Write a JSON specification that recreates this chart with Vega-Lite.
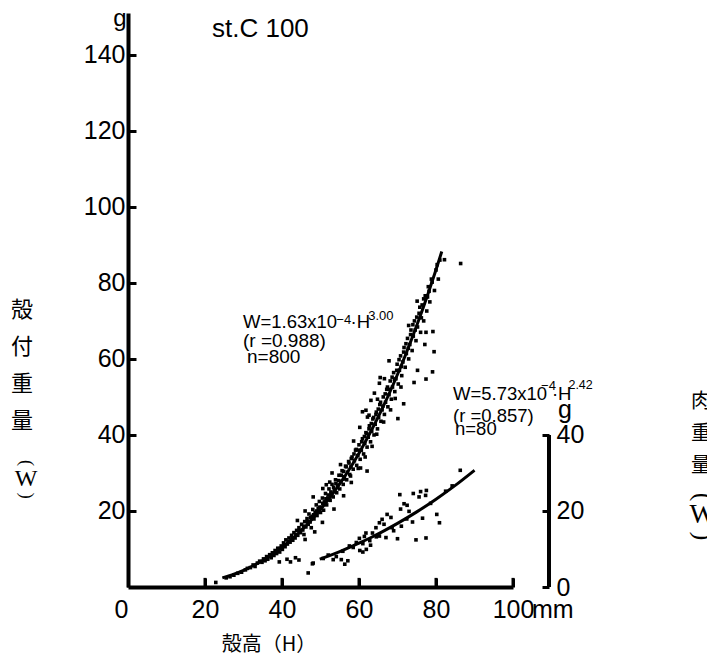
{
"$schema": "https://vega.github.io/schema/vega-lite/v6.json",
"width": 385, "height": 574,
"autosize": {"type": "none"},
"padding": {"left": 128, "top": 13, "right": 194, "bottom": 71},
"background": "white",
"config": {"view": {"stroke": null}, "font": "Liberation Sans"},
"resolve": {"axis": {"x": "independent", "y": "independent"}},
"datasets": {
"shell": [
{"H":22.8,"W":1.2},{"H":25.5,"W":2.4},{"H":26.5,"W":2.7},{"H":27.5,"W":3.1},{"H":28.5,"W":3.6},{"H":29.5,"W":3.9},{"H":30.5,"W":4.5},{"H":31.0,"W":4.9},{"H":31.8,"W":5.1},{"H":32.5,"W":5.8},{"H":33.0,"W":5.4},{"H":33.6,"W":6.3},{"H":34.2,"W":6.8},{"H":34.8,"W":6.5},{"H":35.2,"W":7.4},{"H":35.6,"W":6.9},{"H":36.0,"W":8.0},{"H":36.3,"W":7.3},{"H":36.8,"W":8.5},{"H":37.2,"W":7.7},{"H":37.5,"W":9.0},{"H":37.9,"W":8.3},{"H":38.2,"W":9.6},{"H":38.6,"W":8.8},{"H":38.9,"W":10.2},{"H":39.3,"W":6.6},{"H":39.4,"W":9.2},{"H":39.8,"W":10.8},{"H":40.1,"W":9.9},{"H":40.4,"W":11.6},{"H":40.8,"W":10.6},{"H":41.0,"W":12.4},{"H":41.3,"W":7.3},{"H":41.4,"W":11.3},{"H":41.8,"W":12.9},{"H":42.2,"W":6.6},{"H":42.1,"W":11.8},{"H":42.5,"W":13.6},{"H":42.8,"W":12.3},{"H":43.1,"W":14.3},{"H":43.5,"W":7.7},{"H":43.4,"W":12.9},{"H":43.8,"W":14.9},{"H":44.1,"W":13.6},{"H":44.4,"W":7.1},{"H":44.4,"W":15.6},{"H":44.8,"W":14.3},{"H":45.1,"W":16.5},{"H":45.4,"W":15.0},{"H":45.7,"W":13.8},{"H":45.9,"W":17.2},{"H":46.2,"W":15.8},{"H":46.5,"W":18.0},{"H":46.8,"W":16.5},{"H":47.0,"W":19.2},{"H":47.3,"W":17.1},{"H":47.6,"W":15.6},{"H":47.8,"W":18.6},{"H":48.0,"W":20.4},{"H":48.3,"W":17.9},{"H":48.6,"W":19.6},{"H":48.9,"W":21.6},{"H":49.1,"W":18.8},{"H":49.4,"W":20.6},{"H":49.7,"W":22.5},{"H":50.0,"W":19.6},{"H":50.2,"W":21.0},{"H":50.5,"W":23.4},{"H":50.8,"W":20.2},{"H":51.0,"W":22.4},{"H":51.3,"W":24.6},{"H":51.6,"W":21.6},{"H":51.9,"W":23.4},{"H":52.2,"W":25.8},{"H":52.5,"W":22.8},{"H":52.8,"W":24.6},{"H":53.0,"W":27.0},{"H":53.3,"W":23.7},{"H":53.6,"W":25.6},{"H":53.9,"W":28.2},{"H":54.2,"W":24.8},{"H":54.5,"W":26.8},{"H":54.8,"W":29.4},{"H":55.0,"W":25.8},{"H":55.3,"W":27.8},{"H":55.6,"W":30.6},{"H":55.9,"W":27.0},{"H":56.2,"W":29.0},{"H":56.5,"W":31.8},{"H":56.8,"W":28.2},{"H":57.0,"W":30.2},{"H":57.3,"W":33.0},{"H":57.6,"W":29.6},{"H":57.9,"W":31.6},{"H":58.2,"W":34.2},{"H":58.5,"W":31.0},{"H":58.8,"W":33.2},{"H":59.1,"W":36.0},{"H":59.4,"W":32.0},{"H":59.7,"W":34.6},{"H":60.0,"W":37.4},{"H":60.3,"W":33.6},{"H":60.6,"W":36.0},{"H":60.9,"W":39.0},{"H":61.2,"W":35.0},{"H":61.5,"W":37.8},{"H":61.8,"W":40.6},{"H":62.1,"W":36.8},{"H":62.4,"W":39.4},{"H":62.7,"W":42.4},{"H":63.0,"W":38.2},{"H":63.3,"W":41.0},{"H":63.6,"W":44.2},{"H":63.9,"W":40.0},{"H":64.2,"W":42.8},{"H":64.5,"W":46.0},{"H":64.8,"W":41.6},{"H":65.1,"W":44.6},{"H":65.4,"W":48.0},{"H":65.7,"W":43.6},{"H":66.0,"W":46.6},{"H":66.3,"W":50.0},{"H":66.6,"W":45.4},{"H":66.9,"W":48.6},{"H":67.2,"W":52.0},{"H":67.5,"W":47.4},{"H":67.8,"W":59.5},{"H":67.8,"W":50.6},{"H":68.1,"W":54.2},{"H":68.4,"W":49.4},{"H":68.7,"W":52.6},{"H":69.0,"W":56.4},{"H":69.3,"W":51.4},{"H":69.6,"W":54.8},{"H":69.9,"W":58.6},{"H":70.1,"W":44.3},{"H":70.2,"W":53.4},{"H":70.5,"W":57.0},{"H":70.8,"W":60.8},{"H":71.1,"W":55.6},{"H":71.4,"W":59.2},{"H":71.6,"W":48.2},{"H":71.7,"W":63.0},{"H":72.0,"W":57.8},{"H":72.3,"W":61.4},{"H":72.6,"W":65.4},{"H":72.9,"W":68.8},{"H":72.9,"W":60.0},{"H":73.2,"W":63.8},{"H":73.5,"W":67.6},{"H":73.8,"W":62.2},{"H":74.1,"W":66.0},{"H":74.3,"W":53.8},{"H":74.4,"W":70.0},{"H":74.8,"W":64.8},{"H":75.1,"W":75.2},{"H":75.2,"W":57.0},{"H":75.2,"W":68.4},{"H":75.6,"W":72.0},{"H":76.0,"W":67.0},{"H":76.4,"W":74.2},{"H":76.8,"W":70.0},{"H":77.1,"W":63.8},{"H":77.2,"W":76.6},{"H":77.4,"W":67.0},{"H":77.4,"W":54.7},{"H":77.6,"W":72.6},{"H":77.8,"W":76.3},{"H":78.0,"W":79.0},{"H":78.4,"W":75.0},{"H":78.8,"W":81.0},{"H":79.1,"W":56.6},{"H":79.2,"W":67.2},{"H":79.5,"W":61.9},{"H":79.6,"W":78.0},{"H":80.0,"W":83.4},{"H":80.6,"W":81.0},{"H":81.0,"W":86.0},{"H":82.2,"W":86.1},{"H":86.4,"W":85.1},
{"H":62.1,"W":30.5},{"H":60.4,"W":31.3},{"H":58.0,"W":27.5},{"H":56.0,"W":24.0},{"H":53.5,"W":20.5},{"H":50.5,"W":17.0},{"H":48.5,"W":14.5},{"H":46.0,"W":12.5},{"H":50.6,"W":25.9},{"H":48.1,"W":23.7},{"H":51.5,"W":26.9},{"H":46.0,"W":20.0},{"H":44.0,"W":17.5},{"H":53.0,"W":30.0},{"H":65.5,"W":55.1},{"H":66.6,"W":54.8},{"H":65.3,"W":53.6},{"H":64.0,"W":51.0},{"H":63.1,"W":49.1},{"H":61.8,"W":46.5},{"H":60.9,"W":46.1},{"H":62.2,"W":44.7},
{"H":38.4,"W":9.5},{"H":39.6,"W":10.2},{"H":40.6,"W":11.0},{"H":41.6,"W":12.0},{"H":42.6,"W":12.8},{"H":43.6,"W":13.8},{"H":44.6,"W":14.9},{"H":45.6,"W":16.0},{"H":46.6,"W":17.2},{"H":47.4,"W":18.2},{"H":48.2,"W":19.0},{"H":49.0,"W":20.0},{"H":49.8,"W":21.0},{"H":50.6,"W":22.0},{"H":51.4,"W":23.2},{"H":52.0,"W":24.2},{"H":52.7,"W":25.0},{"H":53.4,"W":26.2},{"H":54.0,"W":27.2},{"H":54.7,"W":28.0},{"H":55.4,"W":29.4},{"H":56.0,"W":30.4},{"H":56.7,"W":31.6},{"H":57.4,"W":32.6},{"H":58.0,"W":33.8},{"H":58.7,"W":35.0},{"H":59.3,"W":36.2},{"H":60.0,"W":36.0},{"H":60.7,"W":38.2},{"H":61.4,"W":39.6},{"H":62.0,"W":40.4},{"H":62.6,"W":41.6},{"H":63.2,"W":43.0},{"H":63.8,"W":44.6},{"H":64.4,"W":45.4},{"H":65.0,"W":46.8},{"H":65.6,"W":48.6},{"H":66.2,"W":47.6},{"H":66.8,"W":50.8},{"H":67.4,"W":52.6},{"H":68.0,"W":52.0},{"H":68.6,"W":55.2},{"H":69.2,"W":54.6},{"H":69.8,"W":57.0},{"H":70.4,"W":59.8},{"H":71.0,"W":58.0},{"H":71.6,"W":61.8},{"H":72.2,"W":64.0},{"H":72.8,"W":62.8},{"H":73.4,"W":66.4},{"H":74.0,"W":69.0},{"H":74.6,"W":67.6},{"H":75.0,"W":71.0},{"H":75.8,"W":73.6},{"H":76.2,"W":70.8},{"H":76.8,"W":75.8},{"H":78.2,"W":77.8},{"H":79.0,"W":80.2},{"H":80.3,"W":84.8},{"H":56.0,"W":28.4},{"H":57.8,"W":29.2},{"H":59.8,"W":31.2},{"H":61.6,"W":34.2},{"H":63.4,"W":37.0},{"H":64.6,"W":40.2},{"H":66.4,"W":43.4},{"H":68.2,"W":46.6},{"H":69.4,"W":49.6},{"H":70.9,"W":52.6},{"H":62.6,"W":45.2},{"H":64.8,"W":49.4},{"H":60.2,"W":42.0},{"H":58.6,"W":38.4},{"H":55.2,"W":32.2},{"H":52.4,"W":27.6}
],
"shellFit": [
{"H":24.5,"W":2.40},{"H":27,"W":3.21},{"H":30,"W":4.40},{"H":33,"W":5.86},{"H":36,"W":7.60},{"H":39,"W":9.67},{"H":42,"W":12.08},{"H":45,"W":14.85},{"H":48,"W":18.03},{"H":51,"W":21.62},{"H":54,"W":25.67},{"H":57,"W":30.19},{"H":60,"W":35.21},{"H":63,"W":40.76},{"H":66,"W":46.86},{"H":69,"W":53.54},{"H":72,"W":60.84},{"H":75,"W":68.77},{"H":78,"W":77.35},{"H":80,"W":83.46},{"H":81.5,"W":88.24}
],
"meat": [
{"H":86.3,"W":30.7},{"H":70.6,"W":24.3},{"H":74.1,"W":24.6},{"H":76.0,"W":25.1},{"H":77.5,"W":25.4},{"H":75.6,"W":23.7},{"H":77.3,"W":24.1},{"H":72.5,"W":21.5},{"H":70.8,"W":20.5},{"H":73.0,"W":19.9},{"H":71.7,"W":21.9},{"H":73.9,"W":17.1},{"H":76.5,"W":18.1},{"H":80.2,"W":19.1},{"H":80.9,"W":16.9},{"H":67.3,"W":19.1},{"H":66.0,"W":17.8},{"H":66.5,"W":16.5},{"H":64.4,"W":15.6},{"H":63.5,"W":14.2},{"H":61.8,"W":14.2},{"H":61.4,"W":13.3},{"H":60.1,"W":12.8},{"H":65.3,"W":13.4},{"H":67.0,"W":13.0},{"H":70.0,"W":12.7},{"H":74.8,"W":12.4},{"H":77.4,"W":12.9},{"H":61.0,"W":11.4},{"H":59.3,"W":11.7},{"H":57.5,"W":10.8},{"H":60.2,"W":9.6},{"H":61.0,"W":9.2},{"H":55.8,"W":9.4},{"H":54.1,"W":8.0},{"H":55.4,"W":7.2},{"H":57.1,"W":6.9},{"H":56.3,"W":6.0},{"H":65.3,"W":16.9},{"H":68.3,"W":18.3},{"H":47.9,"W":6.1},{"H":50.7,"W":7.5},{"H":46.8,"W":3.7},{"H":48.1,"W":6.3},{"H":53.3,"W":7.2},{"H":61.9,"W":9.9},{"H":52.0,"W":8.4},{"H":58.5,"W":10.4},{"H":62.8,"W":12.2},{"H":64.5,"W":13.2},{"H":68.6,"W":15.6},{"H":72.4,"W":17.9},{"H":78.6,"W":22.0},{"H":82.5,"W":25.2},{"H":84.2,"W":26.6},{"H":69.0,"W":14.8},{"H":63.0,"W":11.0},{"H":71.0,"W":16.0}
],
"meatFit": [
{"H":49.8,"W":7.34},{"H":52,"W":8.14},{"H":55,"W":9.33},{"H":58,"W":10.61},{"H":60,"W":11.52},{"H":63,"W":12.96},{"H":66,"W":14.50},{"H":70,"W":16.73},{"H":75,"W":19.76},{"H":80,"W":23.10},{"H":85,"W":26.74},{"H":90,"W":30.71}
],
"xticks": [{"v":20},{"v":40},{"v":60},{"v":80},{"v":100}]
},
"layer": [
{"data": {"name": "shell"},
 "mark": {"type": "point", "shape": "square", "filled": true, "size": 13, "color": "black", "opacity": 1},
 "encoding": {
  "x": {"field": "H", "type": "quantitative", "scale": {"domain": [0, 100], "nice": false, "zero": false},
   "axis": {"orient": "bottom", "values": [0,20,40,60,80,100], "domain": true, "domainWidth": 4, "domainColor": "black", "grid": false, "ticks": true, "tickSize": -9, "tickWidth": 3, "tickColor": "black", "labels": true, "labelFlush": false, "labelAlign": {"condition": {"test": "datum.value === 0", "value": "right"}, "value": "center"}, "labelFont": "Liberation Sans", "labelFontSize": 25, "labelColor": "black", "labelPadding": 19, "title": null}},
  "y": {"field": "W", "type": "quantitative", "scale": {"domain": [0, 151], "nice": false, "zero": false},
   "axis": {"values": [20,40,60,80,100,120,140], "domain": true, "domainWidth": 4, "domainColor": "black", "grid": false, "tickSize": -8, "tickWidth": 3, "tickColor": "black", "labelFont": "Liberation Sans", "labelFontSize": 25, "labelColor": "black", "labelPadding": 11, "title": null}}
 }},
{"data": {"name": "xticks"},
 "mark": {"type": "rule", "strokeWidth": 3, "color": "black"},
 "encoding": {"x": {"field": "v", "type": "quantitative", "axis": null}, "y": {"datum": 0, "type": "quantitative", "axis": null}, "y2": {"datum": 2.4}}},
{"data": {"name": "shellFit"},
 "mark": {"type": "line", "strokeWidth": 3, "color": "black", "interpolate": "monotone"},
 "encoding": {"x": {"field": "H", "type": "quantitative", "axis": null}, "y": {"field": "W", "type": "quantitative", "axis": null}}},
{"data": {"name": "meat"},
 "mark": {"type": "point", "shape": "square", "filled": true, "size": 13, "color": "black", "opacity": 1},
 "encoding": {"x": {"field": "H", "type": "quantitative", "axis": null}, "y": {"field": "W", "type": "quantitative", "axis": null}}},
{"data": {"name": "meatFit"},
 "mark": {"type": "line", "strokeWidth": 3, "color": "black", "interpolate": "monotone"},
 "encoding": {"x": {"field": "H", "type": "quantitative", "axis": null}, "y": {"field": "W", "type": "quantitative", "axis": null}}},
{"data": {"values": [{}]},
 "mark": {"type": "rule", "strokeWidth": 4, "color": "black"},
 "encoding": {"x": {"datum": 109.35, "type": "quantitative", "axis": null},
  "y": {"datum": 0, "type": "quantitative", "axis": {"orient": "right", "offset": 36, "values": [0,20,40], "domain": false, "grid": false, "tickSize": -7, "tickWidth": 3, "tickColor": "black", "labelFont": "Liberation Sans", "labelFontSize": 25, "labelColor": "black", "labelPadding": 14, "title": null}},
  "y2": {"datum": 40}}},
{"data": {"values": [{}]}, "mark": {"type": "text", "align": "left", "baseline": "alphabetic", "fontSize": 26, "font": "Liberation Sans", "color": "black"},
 "encoding": {"x": {"datum": 21.82, "type": "quantitative", "axis": null}, "y": {"datum": 144.74, "type": "quantitative", "axis": null}, "text": {"value": "st.C 100"}}},
{"data": {"values": [{}]}, "mark": {"type": "text", "align": "left", "baseline": "alphabetic", "fontSize": 18.5, "font": "Liberation Sans", "color": "black"},
 "encoding": {"x": {"datum": 29.87, "type": "quantitative", "axis": null}, "y": {"datum": 68.16, "type": "quantitative", "axis": null}, "text": {"value": "W=1.63x10"}}},
{"data": {"values": [{}]}, "mark": {"type": "text", "align": "left", "baseline": "alphabetic", "fontSize": 13, "font": "Liberation Sans", "color": "black"},
 "encoding": {"x": {"datum": 54.1, "type": "quantitative", "axis": null}, "y": {"datum": 69.2, "type": "quantitative", "axis": null}, "text": {"value": "−4"}}},
{"data": {"values": [{}]}, "mark": {"type": "text", "align": "left", "baseline": "alphabetic", "fontSize": 18.5, "font": "Liberation Sans", "color": "black"},
 "encoding": {"x": {"datum": 57.8, "type": "quantitative", "axis": null}, "y": {"datum": 68.16, "type": "quantitative", "axis": null}, "text": {"value": "·H"}}},
{"data": {"values": [{}]}, "mark": {"type": "text", "align": "left", "baseline": "alphabetic", "fontSize": 13, "font": "Liberation Sans", "color": "black"},
 "encoding": {"x": {"datum": 62.4, "type": "quantitative", "axis": null}, "y": {"datum": 70.3, "type": "quantitative", "axis": null}, "text": {"value": "3.00"}}},
{"data": {"values": [{}]}, "mark": {"type": "text", "align": "left", "baseline": "alphabetic", "fontSize": 19, "font": "Liberation Sans", "color": "black"},
 "encoding": {"x": {"datum": 29.87, "type": "quantitative", "axis": null}, "y": {"datum": 63.16, "type": "quantitative", "axis": null}, "text": {"value": "(r =0.988)"}}},
{"data": {"values": [{}]}, "mark": {"type": "text", "align": "left", "baseline": "alphabetic", "fontSize": 19, "font": "Liberation Sans", "color": "black"},
 "encoding": {"x": {"datum": 30.91, "type": "quantitative", "axis": null}, "y": {"datum": 58.95, "type": "quantitative", "axis": null}, "text": {"value": "n=800"}}},
{"data": {"values": [{}]}, "mark": {"type": "text", "align": "left", "baseline": "alphabetic", "fontSize": 18.5, "font": "Liberation Sans", "color": "black"},
 "encoding": {"x": {"datum": 84.42, "type": "quantitative", "axis": null}, "y": {"datum": 49.21, "type": "quantitative", "axis": null}, "text": {"value": "W=5.73x10"}}},
{"data": {"values": [{}]}, "mark": {"type": "text", "align": "left", "baseline": "alphabetic", "fontSize": 13, "font": "Liberation Sans", "color": "black"},
 "encoding": {"x": {"datum": 107.3, "type": "quantitative", "axis": null}, "y": {"datum": 51.8, "type": "quantitative", "axis": null}, "text": {"value": "−4"}}},
{"data": {"values": [{}]}, "mark": {"type": "text", "align": "left", "baseline": "alphabetic", "fontSize": 18.5, "font": "Liberation Sans", "color": "black"},
 "encoding": {"x": {"datum": 110.1, "type": "quantitative", "axis": null}, "y": {"datum": 49.21, "type": "quantitative", "axis": null}, "text": {"value": "·H"}}},
{"data": {"values": [{}]}, "mark": {"type": "text", "align": "left", "baseline": "alphabetic", "fontSize": 12.5, "font": "Liberation Sans", "color": "black"},
 "encoding": {"x": {"datum": 114.4, "type": "quantitative", "axis": null}, "y": {"datum": 52.0, "type": "quantitative", "axis": null}, "text": {"value": "2.42"}}},
{"data": {"values": [{}]}, "mark": {"type": "text", "align": "left", "baseline": "alphabetic", "fontSize": 18.5, "font": "Liberation Sans", "color": "black"},
 "encoding": {"x": {"datum": 84.42, "type": "quantitative", "axis": null}, "y": {"datum": 43.42, "type": "quantitative", "axis": null}, "text": {"value": "(r =0.857)"}}},
{"data": {"values": [{}]}, "mark": {"type": "text", "align": "left", "baseline": "alphabetic", "fontSize": 18.5, "font": "Liberation Sans", "color": "black"},
 "encoding": {"x": {"datum": 84.94, "type": "quantitative", "axis": null}, "y": {"datum": 40.0, "type": "quantitative", "axis": null}, "text": {"value": "n=80"}}},
{"data": {"values": [{}]}, "mark": {"type": "text", "align": "center", "baseline": "alphabetic", "fontSize": 24, "font": "Liberation Sans", "color": "black"},
 "encoding": {"x": {"datum": -2.08, "type": "quantitative", "axis": null}, "y": {"datum": 147.5, "type": "quantitative", "axis": null}, "text": {"value": "g"}}},
{"data": {"values": [{}]}, "mark": {"type": "text", "align": "center", "baseline": "alphabetic", "fontSize": 25, "font": "Liberation Sans", "color": "black"},
 "encoding": {"x": {"datum": 113.51, "type": "quantitative", "axis": null}, "y": {"datum": 44.47, "type": "quantitative", "axis": null}, "text": {"value": "g"}}},
{"data": {"values": [{}]}, "mark": {"type": "text", "align": "left", "baseline": "alphabetic", "fontSize": 25, "font": "Liberation Sans", "color": "black"},
 "encoding": {"x": {"datum": 104.94, "type": "quantitative", "axis": null}, "y": {"datum": -8.16, "type": "quantitative", "axis": null}, "text": {"value": "mm"}}},
{"data": {"values": [{}]}, "mark": {"type": "text", "align": "center", "baseline": "middle", "fontSize": 20, "font": "Noto Sans CJK JP", "color": "black"},
 "encoding": {"x": {"datum": 36.62, "type": "quantitative", "axis": null}, "y": {"datum": -15.26, "type": "quantitative", "axis": null}, "text": {"value": "殻高（H）"}}},
{"data": {"values": [{}]}, "mark": {"type": "text", "align": "center", "baseline": "top", "fontSize": 22, "lineHeight": 37, "font": "Noto Sans CJK JP", "color": "black"},
 "encoding": {"x": {"datum": -27.53, "type": "quantitative", "axis": null}, "y": {"datum": 75.53, "type": "quantitative", "axis": null}, "text": {"value": ["殻", "付", "重", "量"]}}},
{"data": {"values": [{}]}, "mark": {"type": "text", "align": "center", "baseline": "middle", "fontSize": 18, "angle": 90, "font": "Liberation Serif", "color": "black"},
 "encoding": {"x": {"datum": -26.5, "type": "quantitative", "axis": null}, "y": {"datum": 32.6, "type": "quantitative", "axis": null}, "text": {"value": "("}}},
{"data": {"values": [{}]}, "mark": {"type": "text", "align": "center", "baseline": "middle", "fontSize": 24, "font": "Liberation Serif", "color": "black"},
 "encoding": {"x": {"datum": -26.5, "type": "quantitative", "axis": null}, "y": {"datum": 28.42, "type": "quantitative", "axis": null}, "text": {"value": "W"}}},
{"data": {"values": [{}]}, "mark": {"type": "text", "align": "center", "baseline": "middle", "fontSize": 18, "angle": 90, "font": "Liberation Serif", "color": "black"},
 "encoding": {"x": {"datum": -26.5, "type": "quantitative", "axis": null}, "y": {"datum": 24.0, "type": "quantitative", "axis": null}, "text": {"value": ")"}}},
{"data": {"values": [{}]}, "mark": {"type": "text", "align": "center", "baseline": "top", "fontSize": 20, "lineHeight": 32, "font": "Noto Sans CJK JP", "color": "black"},
 "encoding": {"x": {"datum": 148.83, "type": "quantitative", "axis": null}, "y": {"datum": 51.32, "type": "quantitative", "axis": null}, "text": {"value": ["肉", "重", "量"]}}},
{"data": {"values": [{}]}, "mark": {"type": "text", "align": "center", "baseline": "middle", "fontSize": 26, "angle": 90, "font": "Liberation Serif", "color": "black"},
 "encoding": {"x": {"datum": 149.3, "type": "quantitative", "axis": null}, "y": {"datum": 23.68, "type": "quantitative", "axis": null}, "text": {"value": "("}}},
{"data": {"values": [{}]}, "mark": {"type": "text", "align": "center", "baseline": "middle", "fontSize": 28, "font": "Liberation Serif", "color": "black"},
 "encoding": {"x": {"datum": 149.3, "type": "quantitative", "axis": null}, "y": {"datum": 18.95, "type": "quantitative", "axis": null}, "text": {"value": "W"}}},
{"data": {"values": [{}]}, "mark": {"type": "text", "align": "center", "baseline": "middle", "fontSize": 26, "angle": 90, "font": "Liberation Serif", "color": "black"},
 "encoding": {"x": {"datum": 149.3, "type": "quantitative", "axis": null}, "y": {"datum": 13.42, "type": "quantitative", "axis": null}, "text": {"value": ")"}}}
]
}
